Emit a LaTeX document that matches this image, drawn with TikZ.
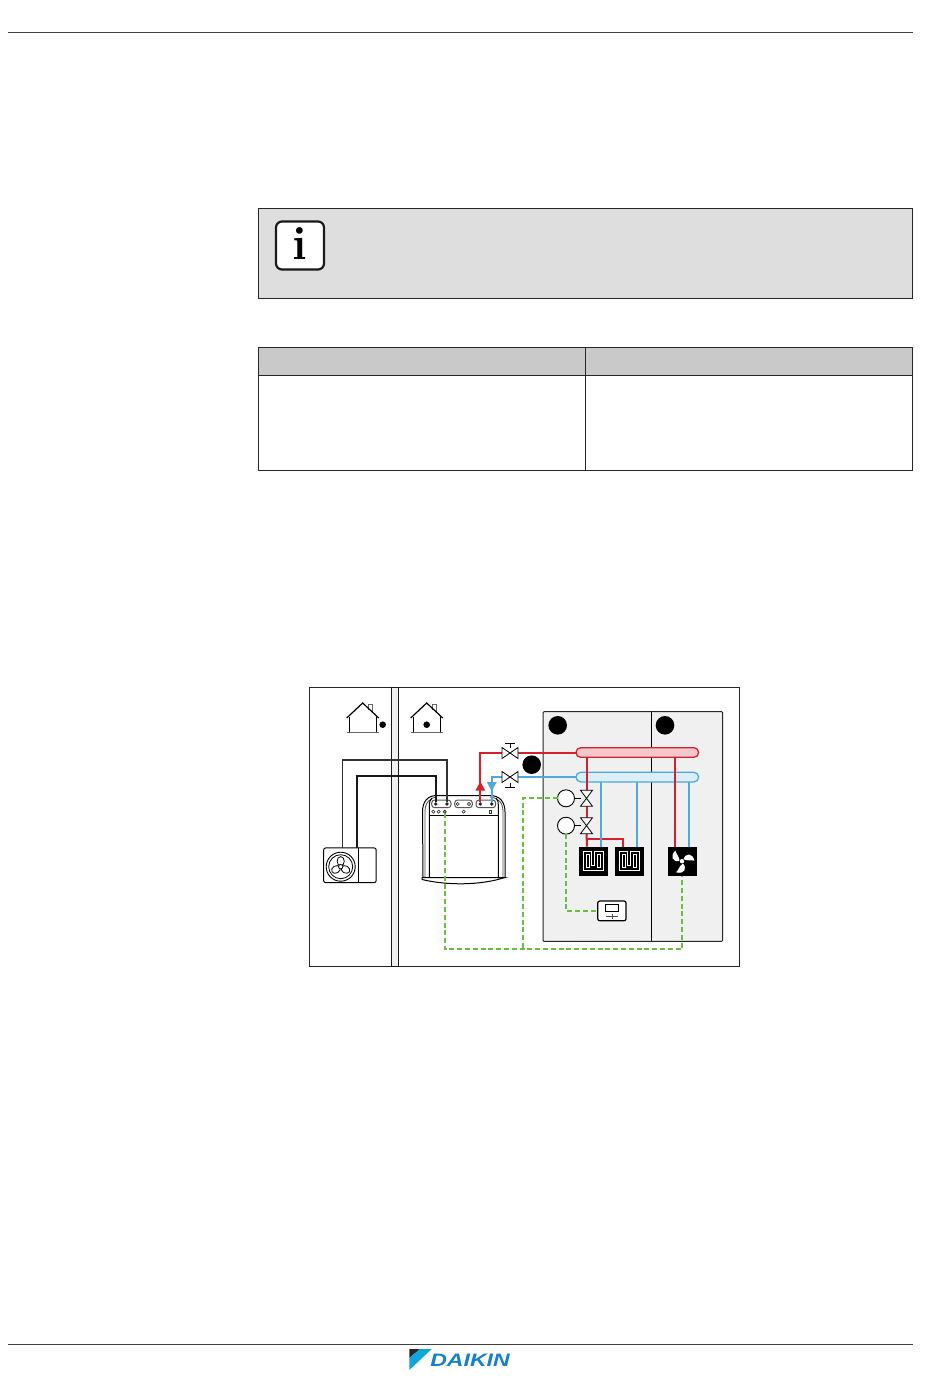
\documentclass[tikz,border=0pt]{standalone}
\usepackage{fontspec}
\usetikzlibrary{calc}
\definecolor{hotpipe}{HTML}{D7202E}
\definecolor{coldpipe}{HTML}{4FA9DF}
\definecolor{sigline}{HTML}{69BD45}
\definecolor{logoblue}{HTML}{1580CC}
\newfontfamily\logofont[BoldFeatures={FakeBold=1.2}]{Liberation Sans}
\tikzset{
  rule/.style={draw=black!75,line width=.8pt},
  hot/.style={draw=hotpipe,line width=2pt},
  cold/.style={draw=coldpipe,line width=1.8pt},
  sig/.style={draw=sigline,line width=2pt,dash pattern=on 5pt off 2.8pt},
  link/.style={draw=black,line width=.9pt},
  bar/.style={rounded corners=4.8pt,minimum width=122.7pt,minimum height=9.6pt,inner sep=0,outer sep=0,line width=1.3pt},
  disc/.style={circle,fill=black,minimum size=18.6pt,inner sep=0},
  act/.style={circle,draw=black,fill=white,line width=.9pt,minimum size=17pt,inner sep=0,outer sep=0},
  port/.style={circle,fill=black!85,minimum size=3.8pt,inner sep=0,outer sep=0},
  oport/.style={circle,draw=black!80,fill=white,line width=.6pt,minimum size=3.2pt,inner sep=0,outer sep=0},
  plug/.style={draw=black!65,fill=white,rounded corners=3pt,line width=1pt},
  valveh/.style={minimum width=16pt,minimum height=11pt,inner sep=0,outer sep=0},
  valvev/.style={minimum width=12pt,minimum height=16pt,inner sep=0,outer sep=0},
  emitter/.style={fill=black,minimum size=29pt,inner sep=0,outer sep=0},
  valvesym/.pic={\draw[black,fill=white,line width=.8pt] (-8,-5.5) -- (0,0) -- (-8,5.5) -- cycle (8,-5.5) -- (0,0) -- (8,5.5) -- cycle;},
  valveup/.pic={\draw[black,fill=white,line width=.8pt] (-6,-8) -- (0,0) -- (6,-8) -- cycle (-6,8) -- (0,0) -- (6,8) -- cycle;},
  coil/.pic={
    \foreach \c/\w in {white/3.6pt,black/1.5pt}
      \draw[\c,line width=\w] (-8.5,8) -- (-8.5,-8) -- (-3,-8) -- (-3,6) -- (2.5,6) -- (2.5,-8) -- (8.5,-8) -- (8.5,8) -- cycle;
  },
  blades/.pic={
    \foreach \a in {0,120,240}
      \fill[white,rotate=\a] (1.5,-2) .. controls (3.5,-8.5) and (10.5,-8.5) .. (12.5,-.5) .. controls (9,-1.5) and (5,0) .. (1.5,-2) -- cycle;
    \fill[white] (0,0) circle (2.2);
  },
  petals/.pic={
    \foreach \a in {0,120,240}
      \draw[black,fill=white,line width=.8pt,rotate=\a] (0,-5.5) ellipse (3.6 and 4.6);
    \draw[black,fill=white,line width=.8pt] (0,0) circle (2.2);
  },
  house/.pic={
    \draw[black!60,line width=1pt] (5.5,7) -- (5.5,1) -- (10,1) -- (10,9);
    \draw[black,line width=1.2pt] (-13.5,14) -- (-13.5,29.5) (13.5,14) -- (13.5,29.5);
    \draw[black,line width=1.2pt] (-16,15) -- (0,0) -- (16,15);
    \draw[black!60,line width=1.2pt] (-16,29.7) -- (16,29.7);
  }
}
\begin{document}
\begin{tikzpicture}[x=1pt,y=-1pt]
  \useasboundingbox (0,0) rectangle (950,1387);

  % page rules
  \coordinate (hl) at (8,32.5);
  \coordinate (hr) at (912.5,32.5);
  \coordinate (fl) at (8,1344.5);
  \coordinate (fr) at (912.5,1344.5);
  \draw[rule] (hl) -- (hr);
  \draw[rule] (fl) -- (fr);

  % note box
  \draw[black!85,fill=black!13,line width=.8pt] (258.5,208.5) rectangle (912.5,298.5);
  \node[draw=black!90,fill=white,line width=2.2pt,rounded corners=6pt,minimum width=48pt,minimum height=48pt,inner sep=0,outer sep=0] (info) at (300,245.5) {};
  \node[font=\fontsize{47}{47}\selectfont\bfseries,inner sep=0] (infoi) at (300,244) {i};

  % table
  \draw[black!85,fill=black!21,line width=.8pt] (258.5,347.5) rectangle (912.5,375.5);
  \draw[black!85,line width=.8pt] (258.5,347.5) rectangle (912.5,470.5);
  \draw[black!85,line width=.8pt] (585.5,347.5) -- (585.5,470.5);

  % frame and wall
  \draw[black!85,line width=.9pt] (309.5,687.5) rectangle (739.5,966.5);
  \draw[black!90,fill=black!6,line width=.9pt] (391.5,687.5) rectangle (398.5,966.5);
  \pic at (362.7,703) {house};
  \pic at (426.7,703) {house};
  \node[circle,fill=black,minimum size=6.6pt,inner sep=0] (outdot) at (382.7,724.7) {};
  \node[circle,fill=black,minimum size=6.6pt,inner sep=0] (indot) at (426.7,724.7) {};

  % rooms
  \draw[black!85,fill=black!6,line width=1pt,rounded corners=1pt] (543,711.7) rectangle (722.7,941.3);
  \draw[black,line width=.9pt] (651.5,711.7) -- (651.5,941.3);
  \node[disc] (numa) at (557.7,725.3) {};
  \node[disc] (numb) at (665,725.3) {};
  \node[disc] (numc) at (531.7,764.7) {};

  % outdoor unit
  \node[draw=black,fill=white,line width=1pt,rounded corners=2pt,minimum width=52.5pt,minimum height=34.7pt,inner sep=0,outer sep=0] (odu) at (349.9,865.3) {};
  \draw[black,line width=.8pt] (358.5,848) -- (358.5,882.7);
  \node[circle,draw=black,line width=.9pt,minimum size=29pt,inner sep=0] (fanout) at (340.7,866.7) {};
  \node[circle,draw=black,line width=.8pt,minimum size=24pt,inner sep=0] (fanring) at (340.7,866.7) {};
  \pic at (340.7,866.7) {petals};

  % indoor unit
  \draw[black,line width=1pt,fill=white] (423,877) -- (422.5,812) .. controls (422.5,801) and (428,795.5) .. (437,795.5) -- (490,795.5) .. controls (499,795.5) and (505,801) .. (505,812) -- (505,877);
  \draw[black!70,line width=.8pt] (425,877) -- (425,812) .. controls (425,803) and (429,798) .. (437,797);
  \draw[black!70,line width=.8pt] (503,877) -- (503,812) .. controls (503,803) and (499,798) .. (490,797);
  \draw[black,line width=1pt] (429.3,877) -- (429.3,806) .. controls (429.3,802) and (430,800) .. (432,798);
  \draw[black,line width=1pt] (498.3,877) -- (498.3,806) .. controls (498.3,802) and (498,800) .. (496,798);
  \draw[black,line width=1pt] (429.3,815.5) -- (498.3,815.5);
  \draw[black,line width=1pt,fill=white] (422,877.5) -- (505,877.5) .. controls (480,885.5) and (447,885.5) .. (422,879.5) -- cycle;
  \draw[plug] (431.7,800) rectangle (451,807.7);
  \draw[plug] (454.7,800) rectangle (472.3,807.7);
  \draw[plug] (476,800) rectangle (495.7,807.7);
  \foreach \n/\x in {a/435.7,b/447,e/480.3,f/491.7}
    \node[port] (p\n) at (\x,804) {};
  \foreach \n/\x in {c/457.7,d/469}
    \node[oport] (p\n) at (\x,804) {};
  \foreach \n/\x in {g/433.3,h/438.7,j/463.7}
    \node[oport] (p\n) at (\x,811.7) {};
  \node[oport,fill=sigline] (psig) at (444.7,811.7) {};
  \node[oport,rectangle,minimum size=2.4pt] (pk) at (490.3,811.7) {};

  % refrigerant lines
  \coordinate (lnka) at (342.5,848);
  \coordinate (lnkb) at (357,848);
  \coordinate (lnkc) at (342.5,760);
  \coordinate (lnkd) at (357,776);
  \draw[black!80,line width=1.4pt] (lnka) -- (lnkc) -| (pb);
  \draw[black!90,line width=2pt] (lnkb) -- (lnkd) -| (pa);

  % bars
  \node[bar,draw=hotpipe,fill=hotpipe!25] (hotbar) at (637.3,752.5) {};
  \node[bar,draw=coldpipe,fill=coldpipe!20] (coldbar) at (637.3,777.1) {};

  % valves
  \node[valveh] (vhot) at (510,753) {};
  \node[valveh] (vcold) at (510,777) {};
  \node[valvev] (vza) at (586.5,798.3) {};
  \node[valvev] (vzb) at (586.5,825.7) {};
  \node[act] (acta) at (566,798.3) {};
  \node[act] (actb) at (566,825.7) {};

  % emitters
  \node[emitter] (ufha) at (593.5,861.2) {};
  \node[emitter] (ufhb) at (629.5,861.2) {};
  \node[emitter] (fan) at (682,861.2) {};
  \pic at (ufha) {coil};
  \pic at (ufhb) {coil};
  \pic at (fan) {blades};

  % pipes
  \draw[hot] (pe) |- (vhot);
  \draw[hot] (vhot) -- (hotbar.west |- vhot);
  \fill[hotpipe] (480.3,781.5) -- (485.2,790.5) -- (475.4,790.5) -- cycle;
  \draw[cold] (pf) |- (vcold);
  \draw[cold] (vcold) -- (coldbar.west |- vcold);
  \fill[coldpipe] (491.7,791) -- (496.6,782) -- (486.8,782) -- cycle;

  \draw[hot] (vza.north |- hotbar.south) -- (vza.north);
  \draw[hot] (vza.south) -- (vzb.north);
  \draw[hot] (vzb.south) -- ([xshift=-6.5pt]ufha.north);
  \coordinate (tee) at (587,839);
  \draw[hot] (tee) -| ([xshift=-6.5pt]ufhb.north);
  \draw[hot] ([xshift=-7pt]fan.north) -- ([xshift=-7pt]fan.north |- hotbar.south);
  \draw[cold] ([xshift=7.5pt]ufha.north) -- ([xshift=7.5pt]ufha.north |- coldbar.south);
  \draw[cold] ([xshift=7.5pt]ufhb.north) -- ([xshift=7.5pt]ufhb.north |- coldbar.south);
  \draw[cold] ([xshift=7pt]fan.north) -- ([xshift=7pt]fan.north |- coldbar.south);

  \pic at (vhot) {valvesym};
  \pic at (vcold) {valvesym};
  \pic at (vza) {valveup};
  \pic at (vzb) {valveup};
  \draw[link] (vhot) -- +(0,-10) +(-5,-10) -- +(5,-10);
  \draw[link] (vcold) -- +(0,10) +(-5,10) -- +(5,10);
  \draw[link] (acta) -- (vza);
  \draw[link] (actb) -- (vzb);

  % controller
  \node[draw=black,fill=white,line width=1.2pt,rounded corners=2pt,minimum width=28.3pt,minimum height=19.7pt,inner sep=0,outer sep=0] (ctrl) at (611.9,910.9) {};
  \draw[black,line width=.9pt] (605,904.3) rectangle (618.7,911.3);
  \draw[black!70,line width=1pt] (606,916) -- (618,916) (612,913.5) -- (612,918.5);

  % signal lines
  \coordinate (gbus) at (522.7,949);
  \draw[sig] (psig) |- (gbus) -| (fan.south);
  \draw[sig] (acta.west) -| (gbus);
  \draw[sig] (actb.south) |- (ctrl.west);

  % logo
  \fill[black!85] (409.3,1349) -- (420,1349) -- (409.3,1358) -- cycle;
  \fill[logoblue!70!cyan] (420,1349) -- (431.7,1349) -- (409.3,1370) -- (409.3,1358) -- cycle;
  \node[font=\logofont\bfseries\itshape\fontsize{18}{18}\selectfont,text=logoblue,xscale=1.28,inner sep=0] (brand) at (470,1360.5) {DAIKIN};
\end{tikzpicture}
\end{document}
